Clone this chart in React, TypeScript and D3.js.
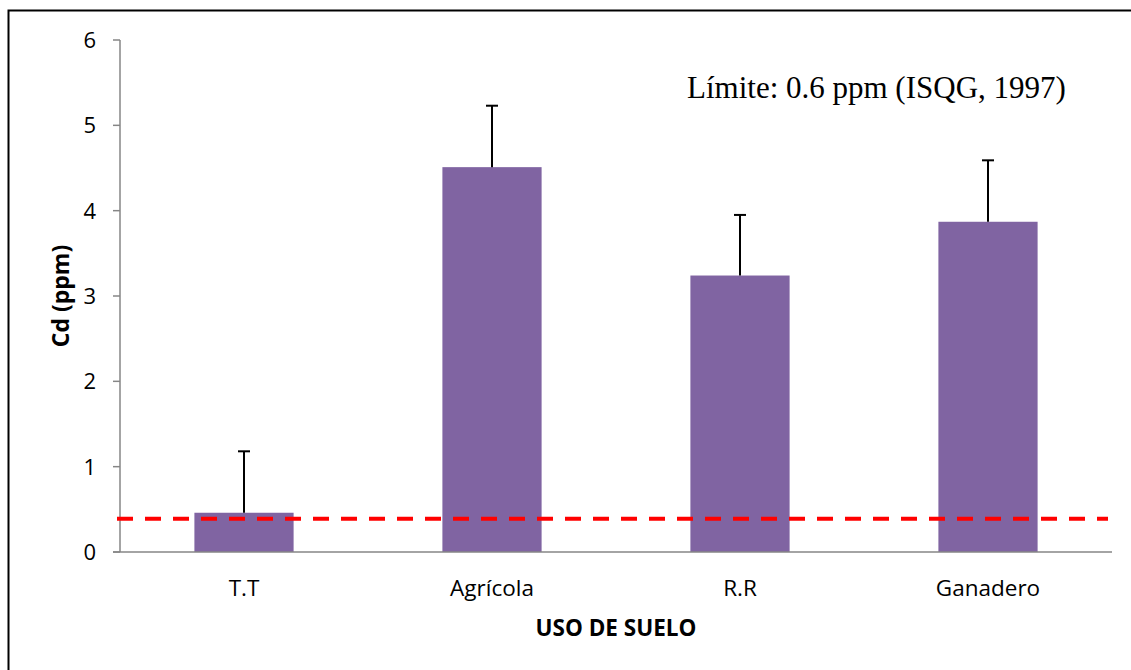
import { useEffect, useRef } from 'react';
import * as d3 from 'd3';

const categories = ['T.T', 'Agrícola', 'R.R', 'Ganadero'];
const means = [0.46, 4.51, 3.24, 3.87];
const errors = [0.72, 0.72, 0.71, 0.72];
const yTicks = [0, 1, 2, 3, 4, 5, 6];
const limitValue = 0.39;
const limitLabel = 'Límite: 0.6 ppm (ISQG, 1997)';

const App = () => {
  const svgRef = useRef<SVGSVGElement>(null);

  useEffect(() => {
    const W = 1131;
    const H = 670;
    const plot = { left: 120, right: 1112, top: 40, bottom: 552 };
    const sans = '"Open Sans", sans-serif';

    const svg = d3.select(svgRef.current);
    svg.selectAll('*').remove();
    svg.attr('width', W).attr('height', H);

    // marco del gráfico (solo se ve arriba y a la izquierda)
    svg
      .append('rect')
      .attr('x', 8.5)
      .attr('y', 10.5)
      .attr('width', W + 20)
      .attr('height', H + 20)
      .attr('fill', 'white')
      .attr('stroke', 'black')
      .attr('stroke-width', 2);

    const x = d3
      .scaleBand()
      .domain(categories)
      .range([plot.left, plot.right])
      .paddingInner(0.6)
      .paddingOuter(0.3);
    const y = d3.scaleLinear().domain([0, 6]).range([plot.bottom, plot.top]);

    // eje Y
    const axisColor = '#868686';
    svg
      .append('line')
      .attr('x1', plot.left)
      .attr('x2', plot.left)
      .attr('y1', y(6))
      .attr('y2', y(0))
      .attr('stroke', axisColor)
      .attr('stroke-width', 1.5);
    yTicks.forEach((t) => {
      svg
        .append('line')
        .attr('x1', plot.left - 7)
        .attr('x2', plot.left)
        .attr('y1', y(t))
        .attr('y2', y(t))
        .attr('stroke', axisColor)
        .attr('stroke-width', 1.5);
      svg
        .append('text')
        .attr('x', 96)
        .attr('y', y(t))
        .attr('dy', '0.36em')
        .attr('text-anchor', 'end')
        .attr('font-family', sans)
        .attr('font-size', 22)
        .attr('fill', 'black')
        .text(t);
    });

    // barras
    categories.forEach((c, i) => {
      svg
        .append('rect')
        .attr('x', x(c)!)
        .attr('y', y(means[i]))
        .attr('width', x.bandwidth())
        .attr('height', y(0) - y(means[i]))
        .attr('fill', '#8064A2');
    });

    // eje X
    svg
      .append('line')
      .attr('x1', plot.left - 7)
      .attr('x2', plot.right)
      .attr('y1', y(0))
      .attr('y2', y(0))
      .attr('stroke', axisColor)
      .attr('stroke-width', 1.5);

    // barras de error (solo hacia arriba)
    categories.forEach((c, i) => {
      const cx = x(c)! + x.bandwidth() / 2;
      const top = y(means[i] + errors[i]);
      svg
        .append('line')
        .attr('x1', cx)
        .attr('x2', cx)
        .attr('y1', y(means[i]))
        .attr('y2', top)
        .attr('stroke', 'black')
        .attr('stroke-width', 2);
      svg
        .append('line')
        .attr('x1', cx - 6)
        .attr('x2', cx + 6)
        .attr('y1', top)
        .attr('y2', top)
        .attr('stroke', 'black')
        .attr('stroke-width', 2);
    });

    // línea límite
    svg
      .append('line')
      .attr('x1', plot.left - 3)
      .attr('x2', plot.right - 4)
      .attr('y1', y(limitValue))
      .attr('y2', y(limitValue))
      .attr('stroke', '#FF0000')
      .attr('stroke-width', 4)
      .attr('stroke-dasharray', '16,12');

    // etiquetas de categorías
    categories.forEach((c) => {
      svg
        .append('text')
        .attr('x', x(c)! + x.bandwidth() / 2)
        .attr('y', 596)
        .attr('text-anchor', 'middle')
        .attr('font-family', sans)
        .attr('font-size', 22.5)
        .attr('fill', 'black')
        .text(c);
    });

    // títulos de ejes
    svg
      .append('text')
      .attr('x', (plot.left + plot.right) / 2)
      .attr('y', 636)
      .attr('text-anchor', 'middle')
      .attr('font-family', sans)
      .attr('font-weight', 'bold')
      .attr('font-size', 22.5)
      .attr('fill', 'black')
      .text('USO DE SUELO');

    svg
      .append('text')
      .attr('transform', `translate(69,${(plot.top + plot.bottom) / 2}) rotate(-90)`)
      .attr('text-anchor', 'middle')
      .attr('font-family', sans)
      .attr('font-weight', 'bold')
      .attr('font-size', 23)
      .attr('fill', 'black')
      .text('Cd (ppm)');

    svg
      .append('text')
      .attr('x', 687)
      .attr('y', 98)
      .attr('font-family', '"Liberation Serif", "Times New Roman", serif')
      .attr('font-size', 31)
      .attr('fill', 'black')
      .text(limitLabel);
  }, []);

  return (
    <svg
      ref={svgRef}
      style={{ position: 'absolute', left: 0, top: 0, display: 'block' }}
    />
  );
};

export default App;
